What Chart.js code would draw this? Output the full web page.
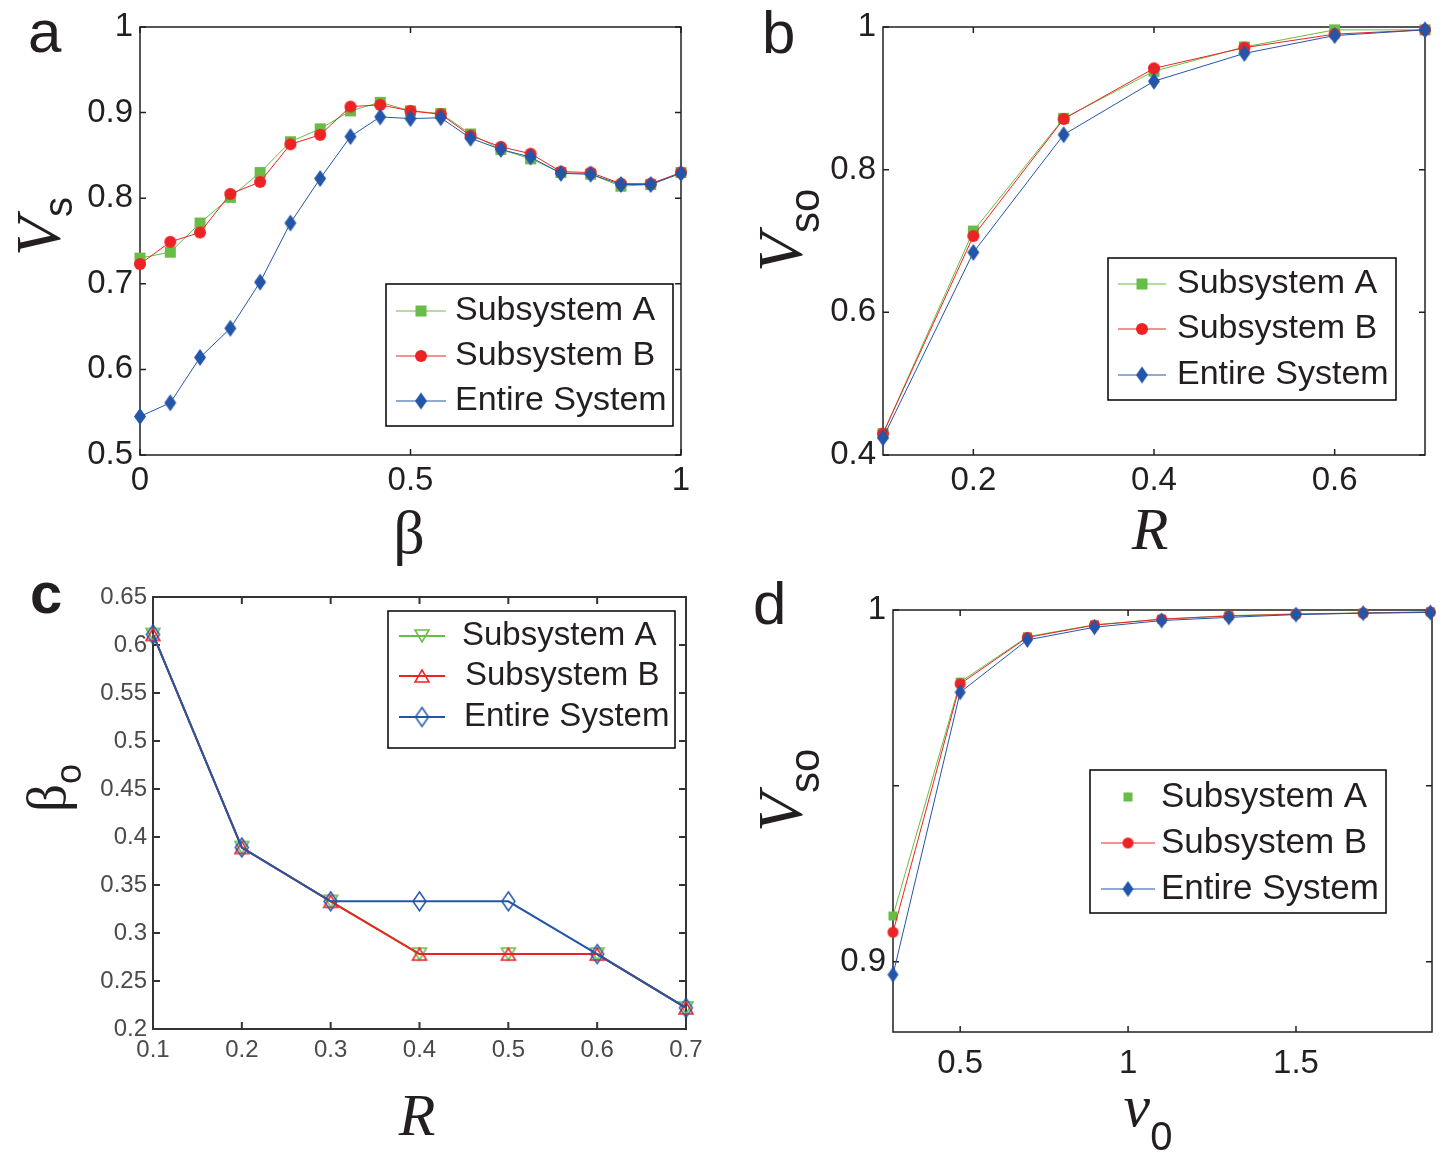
<!DOCTYPE html>
<html>
<head>
<meta charset="utf-8">
<script src="https://cdn.jsdelivr.net/npm/chart.js@4.4.1/dist/chart.umd.min.js"></script>
<style>
  html, body { margin: 0; padding: 0; background: #fff; }
  #page { position: relative; width: 1445px; height: 1152px; overflow: hidden; }
  .panel { position: absolute; }
</style>
</head>
<body>
<div id="page">
  <div class="panel" style="left:0px;top:0px"><canvas id="chartA" width="720" height="570"></canvas></div>
  <div class="panel" style="left:720px;top:0px"><canvas id="chartB" width="725" height="570"></canvas></div>
  <div class="panel" style="left:0px;top:570px"><canvas id="chartC" width="720" height="582"></canvas></div>
  <div class="panel" style="left:720px;top:570px"><canvas id="chartD" width="725" height="582"></canvas></div>
</div>
<script>
// ---- data ----
const seriesNames = ["Subsystem A", "Subsystem B", "Entire System"];
const seriesColors = ["#67bd45", "#ed2224", "#2356a8"];

// panel a: V_s against beta
const betaValues = [0, 0.056, 0.111, 0.167, 0.222, 0.278, 0.333, 0.389, 0.444, 0.5,
                    0.556, 0.611, 0.667, 0.722, 0.778, 0.833, 0.889, 0.944, 1];
const aSubA = [0.730, 0.737, 0.771, 0.801, 0.830, 0.866, 0.881, 0.902, 0.912, 0.902,
               0.899, 0.875, 0.857, 0.846, 0.830, 0.828, 0.814, 0.816, 0.830];
const aSubB = [0.723, 0.749, 0.760, 0.805, 0.819, 0.863, 0.874, 0.907, 0.909, 0.902,
               0.898, 0.873, 0.860, 0.852, 0.831, 0.830, 0.817, 0.817, 0.830];
const aEntire = [0.545, 0.561, 0.614, 0.648, 0.702, 0.771, 0.823, 0.872, 0.895, 0.893,
                 0.894, 0.870, 0.857, 0.848, 0.829, 0.828, 0.816, 0.816, 0.829];
const aXTicks = [0, 0.5, 1];
const aYTicks = [0.5, 0.6, 0.7, 0.8, 0.9, 1];

// panel b: V_so against R
const rValues = [0.1, 0.2, 0.3, 0.4, 0.5, 0.6, 0.7];
const bSubA = [0.430, 0.714, 0.872, 0.938, 0.972, 0.996, 0.996];
const bSubB = [0.430, 0.707, 0.871, 0.942, 0.971, 0.990, 0.996];
const bEntire = [0.424, 0.684, 0.849, 0.924, 0.963, 0.988, 0.996];
const bXTicks = [0.2, 0.4, 0.6];
const bYTicks = [0.4, 0.6, 0.8, 1];

// panel c: beta_o against R
const cSubA = [0.611, 0.389, 0.333, 0.278, 0.278, 0.278, 0.222];
const cSubB = [0.611, 0.389, 0.333, 0.278, 0.278, 0.278, 0.222];
const cEntire = [0.611, 0.389, 0.333, 0.333, 0.333, 0.278, 0.222];
const cXTicks = [0.1, 0.2, 0.3, 0.4, 0.5, 0.6, 0.7];
const cYTicks = [0.2, 0.25, 0.3, 0.35, 0.4, 0.45, 0.5, 0.55, 0.6, 0.65];

// panel d: V_so against v0
const v0Values = [0.3, 0.5, 0.7, 0.9, 1.1, 1.3, 1.5, 1.7, 1.9];
const dSubA = [0.913, 0.9795, 0.9924, 0.9958, 0.9974, 0.9984, 0.9989, 0.9992, 0.9995];
const dSubB = [0.9084, 0.979, 0.9922, 0.9957, 0.9974, 0.9983, 0.9988, 0.9991, 0.9994];
const dEntire = [0.8963, 0.9766, 0.9915, 0.9951, 0.997, 0.9979, 0.9987, 0.9991, 0.9993];
const dXTicks = [0.5, 1, 1.5];
const dYTicks = [0.9, 0.95, 1];
const dYTickLabels = ["0.9", "", "1"];

// ---- styling helpers ----
const textColor = "#231f20";
const sans = "'Liberation Sans', Arial, Helvetica, sans-serif";
const serif = "'Liberation Serif', 'Times New Roman', serif";

// marker glyphs drawn once into small canvases, used as pointStyle
function marker(shape, color, w, h, filled, lw) {
  const pad = 2;
  const c = document.createElement("canvas");
  c.width = Math.ceil(w + 2 * pad);
  c.height = Math.ceil(h + 2 * pad);
  const g = c.getContext("2d");
  g.translate(c.width / 2, c.height / 2);
  g.beginPath();
  if (shape === "square") {
    g.rect(-w / 2, -h / 2, w, h);
  } else if (shape === "circle") {
    g.ellipse(0, 0, w / 2, h / 2, 0, 0, Math.PI * 2);
  } else if (shape === "diamond") {
    g.moveTo(0, -h / 2); g.lineTo(w / 2, 0); g.lineTo(0, h / 2); g.lineTo(-w / 2, 0);
    g.closePath();
  } else if (shape === "triDown") {
    g.moveTo(-w / 2, -h / 2); g.lineTo(w / 2, -h / 2); g.lineTo(0, h / 2);
    g.closePath();
  } else if (shape === "triUp") {
    g.moveTo(0, -h / 2); g.lineTo(w / 2, h / 2); g.lineTo(-w / 2, h / 2);
    g.closePath();
  }
  if (filled) {
    g.fillStyle = color;
    g.fill();
  } else {
    g.strokeStyle = color;
    g.lineWidth = lw;
    g.stroke();
  }
  return c;
}

function framePlugin(o) {
  return {
    id: "frame",
    beforeDatasetsDraw(chart) {
      const { ctx, chartArea: a, scales } = chart;
      ctx.save();
      ctx.strokeStyle = o.color;
      ctx.lineWidth = o.width;
      ctx.strokeRect(a.left, a.top, a.right - a.left, a.bottom - a.top);
      ctx.beginPath();
      scales.x.ticks.forEach(t => {
        const px = scales.x.getPixelForValue(t.value);
        ctx.moveTo(px, a.bottom); ctx.lineTo(px, a.bottom - o.tick);
        ctx.moveTo(px, a.top); ctx.lineTo(px, a.top + o.tick);
      });
      scales.y.ticks.forEach(t => {
        const py = scales.y.getPixelForValue(t.value);
        ctx.moveTo(a.left, py); ctx.lineTo(a.left + o.tick, py);
        ctx.moveTo(a.right, py); ctx.lineTo(a.right - o.tick, py);
      });
      ctx.stroke();
      ctx.restore();
    }
  };
}

function legendPlugin(o) {
  return {
    id: "boxLegend",
    afterDatasetsDraw(chart) {
      const ctx = chart.ctx;
      const [bx, by, bw, bh] = o.box;
      ctx.save();
      ctx.fillStyle = "#fff";
      ctx.fillRect(bx, by, bw, bh);
      ctx.strokeStyle = "#000";
      ctx.lineWidth = 1.5;
      ctx.strokeRect(bx, by, bw, bh);
      chart.data.datasets.forEach((ds, i) => {
        const y = o.rows[i];
        if (o.lines[i]) {
          ctx.strokeStyle = ds.borderColor;
          ctx.lineWidth = ds.borderWidth;
          ctx.beginPath();
          ctx.moveTo(o.line[0], y);
          ctx.lineTo(o.line[1], y);
          ctx.stroke();
        }
        const m = ds.pointStyle;
        ctx.drawImage(m, o.marker - m.width / 2, y - m.height / 2);
        ctx.fillStyle = textColor;
        ctx.font = o.font;
        ctx.textAlign = "left";
        ctx.textBaseline = "middle";
        ctx.fillText(ds.label, o.text[i], y);
      });
      ctx.restore();
    }
  };
}

// letters and axis titles (with subscripts) drawn as canvas text
function textPlugin(items) {
  return {
    id: "titles",
    afterDraw(chart) {
      const ctx = chart.ctx;
      items.forEach(it => {
        ctx.save();
        ctx.translate(it.x, it.y);
        if (it.rot) ctx.rotate(-Math.PI / 2);
        ctx.fillStyle = textColor;
        ctx.textBaseline = "alphabetic";
        ctx.textAlign = "left";
        let total = 0;
        it.parts.forEach(p => { ctx.font = p.font; total += ctx.measureText(p.t).width + (p.dx || 0); });
        let cx = it.align === "center" ? -total / 2 : 0;
        it.parts.forEach(p => {
          ctx.font = p.font;
          ctx.fillText(p.t, cx, p.dy || 0);
          cx += ctx.measureText(p.t).width + (p.dx || 0);
        });
        ctx.restore();
      });
    }
  };
}

function axis(c, dir) {
  return {
    type: "linear",
    min: c.min,
    max: c.max,
    afterBuildTicks: s => { s.ticks = c.ticks.map(v => ({ value: v })); },
    afterFit: s => {
      if (dir === "x") { s.height = c.size; s.paddingLeft = 0; s.paddingRight = 0; }
      else { s.width = c.size; s.paddingTop = 0; s.paddingBottom = 0; }
    },
    grid: { display: false, drawTicks: false },
    border: { display: false },
    ticks: {
      autoSkip: false,
      maxRotation: 0,
      minRotation: 0,
      padding: c.pad,
      color: c.color || textColor,
      font: { family: sans, size: c.fontSize },
      callback: (v, i) => (c.labels ? c.labels[i] : String(v))
    }
  };
}

function lineChart(id, cfg) {
  // blue drawn on top of red, red on top of green
  const datasets = cfg.series.map((ys, i) => ({
    label: seriesNames[i],
    data: cfg.xs.map((x, j) => ({ x: x, y: ys[j] })),
    borderColor: seriesColors[i],
    backgroundColor: seriesColors[i],
    borderWidth: cfg.lineWidth,
    pointStyle: cfg.markers[i],
    pointRadius: 6,
    pointHoverRadius: 6,
    tension: 0,
    fill: false,
    clip: false,
    order: cfg.series.length - i
  }));
  return new Chart(document.getElementById(id), {
    type: "line",
    data: { datasets: datasets },
    options: {
      responsive: false,
      animation: false,
      events: [],
      layout: { padding: cfg.padding },
      scales: { x: axis(cfg.x, "x"), y: axis(cfg.y, "y") },
      plugins: { legend: { display: false }, tooltip: { enabled: false } }
    },
    plugins: [framePlugin(cfg.frame), legendPlugin(cfg.legend), textPlugin(cfg.texts)]
  });
}

const filledMarkers = [
  marker("square", seriesColors[0], 11, 11, true),
  marker("circle", seriesColors[1], 12, 12, true),
  marker("diamond", seriesColors[2], 12, 17, true)
];
const smallMarkers = [
  marker("square", seriesColors[0], 9, 9, true),
  marker("circle", seriesColors[1], 11, 11, true),
  marker("diamond", seriesColors[2], 11, 16, true)
];
const hollowMarkers = [
  marker("triDown", seriesColors[0], 14, 12, false, 1.5),
  marker("triUp", seriesColors[1], 14, 12, false, 1.5),
  marker("diamond", seriesColors[2], 13, 19, false, 1.5)
];

lineChart("chartA", {
  xs: betaValues,
  series: [aSubA, aSubB, aEntire],
  markers: filledMarkers,
  lineWidth: 1,
  padding: { top: 27, right: 39, bottom: 0, left: 0 },
  x: { min: 0, max: 1, ticks: aXTicks, size: 115, pad: 6, fontSize: 33 },
  y: { min: 0.5, max: 1, ticks: aYTicks, size: 140, pad: 7, fontSize: 33 },
  frame: { color: "#231f20", width: 1.5, tick: 6 },
  legend: { box: [386, 284, 287, 142], rows: [311, 356, 401], lines: [true, true, true],
            line: [396, 446], marker: 421, text: [455, 455, 455], font: "34px " + sans },
  texts: [
    { x: 28, y: 52, parts: [{ t: "a", font: "60px " + sans }] },
    { x: 60, y: 256, rot: true, parts: [{ t: "V", font: "italic 64px " + serif }, { t: "s", font: "40px " + sans, dy: 12 }] },
    { x: 409, y: 553, align: "center", parts: [{ t: "β", font: "62px " + serif }] }
  ]
});

lineChart("chartB", {
  xs: rValues,
  series: [bSubA, bSubB, bEntire],
  markers: filledMarkers,
  lineWidth: 1,
  padding: { top: 27, right: 20, bottom: 0, left: 0 },
  x: { min: 0.1, max: 0.7, ticks: bXTicks, size: 115, pad: 6, fontSize: 33 },
  y: { min: 0.4, max: 1, ticks: bYTicks, size: 163, pad: 7, fontSize: 33 },
  frame: { color: "#231f20", width: 1.5, tick: 6 },
  legend: { box: [388, 258, 288, 142], rows: [284, 329, 375], lines: [true, true, true],
            line: [398, 446], marker: 422, text: [457, 457, 457], font: "34px " + sans },
  texts: [
    { x: 42, y: 53, parts: [{ t: "b", font: "60px " + sans }] },
    { x: 82, y: 272, rot: true, parts: [{ t: "V", font: "italic 64px " + serif }, { t: "so", font: "42px " + sans, dy: 17 }] },
    { x: 430, y: 549, align: "center", parts: [{ t: "R", font: "italic 60px " + serif }] }
  ]
});

lineChart("chartC", {
  xs: rValues,
  series: [cSubA, cSubB, cEntire],
  markers: hollowMarkers,
  lineWidth: 2,
  padding: { top: 27, right: 34, bottom: 0, left: 0 },
  x: { min: 0.1, max: 0.7, ticks: cXTicks, size: 123, pad: 7, fontSize: 24, color: "#4a4a4a" },
  y: { min: 0.2, max: 0.65, ticks: cYTicks, size: 153, pad: 6, fontSize: 24, color: "#4a4a4a" },
  frame: { color: "#333333", width: 2, tick: 7 },
  legend: { box: [388, 41, 287, 137], rows: [66, 106, 147], lines: [true, true, true],
            line: [399, 445], marker: 422, text: [462, 465, 464], font: "33px " + sans },
  texts: [
    { x: 30, y: 43, parts: [{ t: "c", font: "bold 58px " + sans }] },
    { x: 65, y: 242, rot: true, parts: [{ t: "β", font: "55px " + serif }, { t: "o", font: "36px " + sans, dy: 16 }] },
    { x: 417, y: 565, align: "center", parts: [{ t: "R", font: "italic 60px " + serif }] }
  ]
});

lineChart("chartD", {
  xs: v0Values,
  series: [dSubA, dSubB, dEntire],
  markers: smallMarkers,
  lineWidth: 1,
  padding: { top: 40, right: 13, bottom: 0, left: 0 },
  x: { min: 0.3, max: 1.905, ticks: dXTicks, size: 120, pad: 12, fontSize: 33 },
  y: { min: 0.88, max: 1, ticks: dYTicks, labels: dYTickLabels, size: 173, pad: 7, fontSize: 33 },
  frame: { color: "#231f20", width: 1.5, tick: 6 },
  legend: { box: [370, 200, 296, 143], rows: [227, 273, 319], lines: [false, true, true],
            line: [381, 435], marker: 408, text: [441, 441, 441], font: "35px " + sans },
  texts: [
    { x: 33, y: 54, parts: [{ t: "d", font: "60px " + sans }] },
    { x: 82, y: 262, rot: true, parts: [{ t: "V", font: "italic 64px " + serif }, { t: "so", font: "42px " + sans, dy: 17 }] },
    { x: 428, y: 556, align: "center", parts: [{ t: "v", font: "italic 60px " + serif }, { t: "0", font: "40px " + sans, dy: 24 }] }
  ]
});
</script>
</body>
</html>
